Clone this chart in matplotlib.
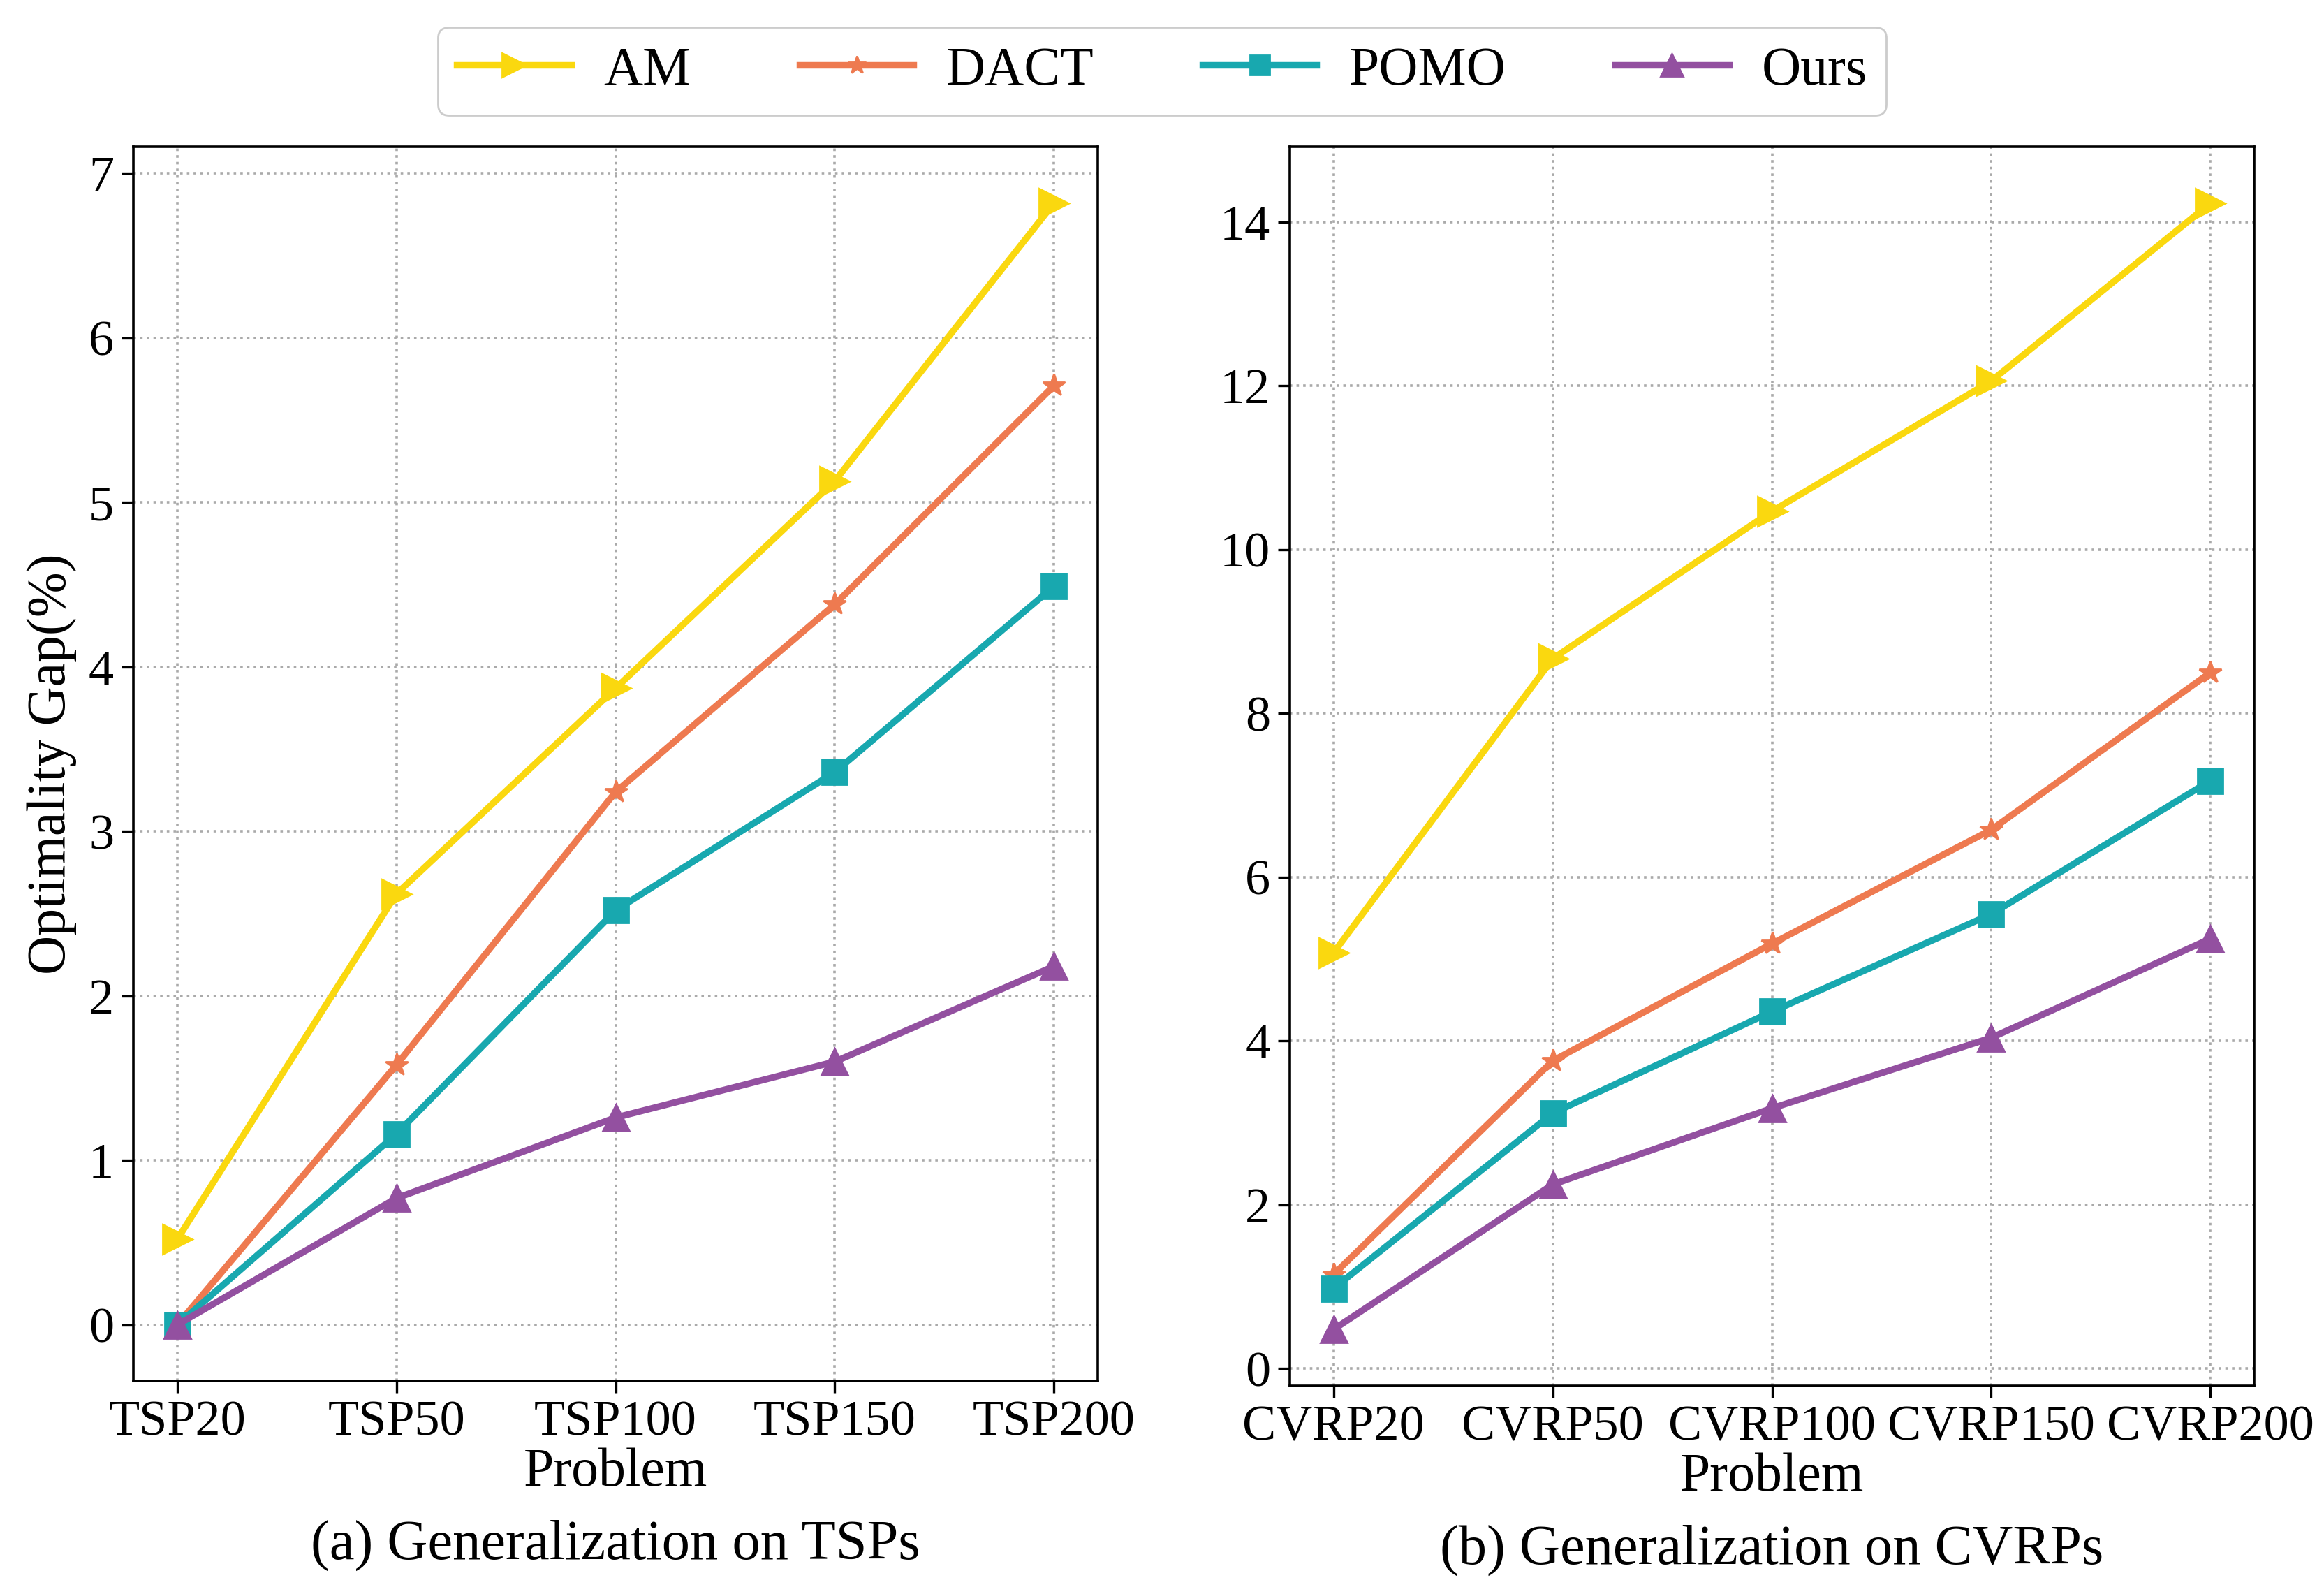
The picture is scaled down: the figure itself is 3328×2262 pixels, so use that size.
import numpy as np
import matplotlib
matplotlib.use("Agg")
import matplotlib.pyplot as plt

plt.rcParams["font.family"] = ["Liberation Serif", "DejaVu Serif"]
plt.rcParams["mathtext.fontset"] = "stix"

# ---------------------------------------------------------------------------
# data
# ---------------------------------------------------------------------------
tsp_labels = ["TSP20", "TSP50", "TSP100", "TSP150", "TSP200"]
cvrp_labels = ["CVRP20", "CVRP50", "CVRP100", "CVRP150", "CVRP200"]

tsp_am   = [0.52, 2.62, 3.87, 5.13, 6.82]
tsp_dact = [0.00, 1.58, 3.24, 4.38, 5.71]
tsp_pomo = [0.00, 1.16, 2.52, 3.36, 4.49]
tsp_ours = [0.00, 0.77, 1.26, 1.60, 2.18]

cvrp_am   = [5.08, 8.67, 10.47, 12.06, 14.23]
cvrp_dact = [1.15, 3.76, 5.19, 6.58, 8.50]
cvrp_pomo = [0.98, 3.12, 4.36, 5.55, 7.18]
cvrp_ours = [0.48, 2.25, 3.18, 4.04, 5.25]

methods = ["AM", "DACT", "POMO", "Ours"]
colors = ["#FAD80F", "#EE7A50", "#18A8AF", "#9350A0"]
markers = [">", "*", "s", "^"]
msizes = [15, 12, 13, 14]


def draw_panel(ax, labels, series, caption, ylabel=None):
    x = np.arange(len(labels))
    for vals, name, c, m, ms in zip(series, methods, colors, markers, msizes):
        ax.plot(x, vals, color=c, marker=m, markersize=ms, lw=3.4, label=name)
    ax.set_xticks(x)
    ax.set_xticklabels(labels)
    ax.tick_params(labelsize=26, length=6, width=1.2, pad=4)
    ax.grid(True, ls=":", color="#aaaaaa", lw=1.3)
    ax.set_xlabel("Problem", fontsize=28, labelpad=1)
    if ylabel:
        ax.set_ylabel(ylabel, fontsize=28, labelpad=6)
    for sp in ax.spines.values():
        sp.set_linewidth(1.3)
    ax.text(0.5, -0.133, caption, transform=ax.transAxes, ha="center",
            va="center", fontsize=29)


fig = plt.figure(figsize=(16.64, 11.31), dpi=200)
ax1 = fig.add_axes([0.0574, 0.126, 0.415, 0.781])
ax2 = fig.add_axes([0.555, 0.123, 0.415, 0.784])

draw_panel(ax1, tsp_labels, [tsp_am, tsp_dact, tsp_pomo, tsp_ours],
           "(a) Generalization on TSPs", ylabel="Optimality Gap(%)")
draw_panel(ax2, cvrp_labels, [cvrp_am, cvrp_dact, cvrp_pomo, cvrp_ours],
           "(b) Generalization on CVRPs")
ax2.set_yticks(np.arange(0, 15, 2))

handles, names = ax1.get_legend_handles_labels()
fig.legend(handles, names, loc="upper center", bbox_to_anchor=(0.5, 1.0),
           ncol=4, fontsize=28, handlelength=2.1, columnspacing=2.0,
           handletextpad=0.6, markerscale=0.8, fancybox=True, framealpha=1,
           edgecolor="#cccccc", borderpad=0.35)

fig.savefig("out.png", dpi=200)
